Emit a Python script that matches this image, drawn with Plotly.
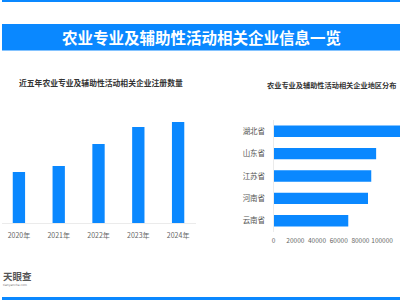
import plotly.graph_objects as go

years = ["2020年", "2021年", "2022年", "2023年", "2024年"]
year_counts = [10200, 11400, 15800, 19200, 20200]

provinces = ["湖北省", "山东省", "江苏省", "河南省", "云南省"]
province_counts = [128000, 94500, 90000, 87000, 68800]

main_title = "农业专业及辅助性活动相关企业信息一览"
left_title = "近五年农业专业及辅助性活动相关企业注册数量"
right_title = "农业专业及辅助性活动相关企业地区分布"

BLUE = "#0A88FF"
W, H = 400, 300

fig = go.Figure()
fig.add_trace(go.Bar(x=years, y=year_counts, marker=dict(color=BLUE, line=dict(width=0)),
                     width=0.31, xaxis="x", yaxis="y", showlegend=False))
fig.add_trace(go.Bar(x=province_counts, y=provinces, orientation="h",
                     marker=dict(color=BLUE, line=dict(width=0)),
                     width=0.51, xaxis="x2", yaxis="y2", showlegend=False))

tickfont = dict(family="Noto Sans CJK SC", size=7, color="#666666")

fig.update_layout(
    width=W, height=H, margin=dict(l=0, r=0, t=0, b=0),
    paper_bgcolor="white", plot_bgcolor="white",
    xaxis=dict(domain=[0, 195 / W], type="category", range=[-0.425, 4.45],
               showline=True, linecolor="#EBEBEB", linewidth=1, showgrid=False,
               ticks="", tickfont=tickfont, ticklabelstandoff=6, tickangle=0, fixedrange=True),
    yaxis=dict(domain=[1 - 223 / H, 1 - 110 / H], range=[0, 22600], visible=False,
               showgrid=False, fixedrange=True),
    xaxis2=dict(domain=[273 / W, 1.0], range=[0, 116500], showgrid=False, zeroline=False,
                showline=False, ticks="", tickvals=[0, 20000, 40000, 60000, 80000, 100000],
                ticktext=["0", "20000", "40000", "60000", "80000", "100000"],
                tickangle=0,
                tickfont=dict(family="Noto Sans CJK SC", size=6.5, color="#666666"),
                ticklabelstandoff=3, anchor="y2", fixedrange=True),
    yaxis2=dict(domain=[1 - 232 / H, 1 - 120 / H], type="category", range=[4.5, -0.5],
                showline=True, linecolor="#EBEBEB", linewidth=1, showgrid=False,
                ticks="", tickfont=dict(family="Noto Sans CJK SC", size=7.5, color="#555555"),
                ticklabelstandoff=6, anchor="x2", fixedrange=True),
    shapes=[
        dict(type="rect", xref="paper", yref="paper", x0=0, x1=1, y0=1 - 2 / H, y1=1,
             fillcolor=BLUE, line=dict(width=0)),
        dict(type="rect", xref="paper", yref="paper", x0=0, x1=1, y0=1 - 50.5 / H, y1=1 - 24 / H,
             fillcolor=BLUE, line=dict(width=0)),
        dict(type="rect", xref="paper", yref="paper", x0=0, x1=1, y0=0, y1=3 / H,
             fillcolor=BLUE, line=dict(width=0)),
    ],
    annotations=[
        dict(text="<b>" + main_title + "</b>", xref="paper", yref="paper", x=0.5, y=1 - 37 / H,
             xanchor="center", yanchor="middle", showarrow=False,
             font=dict(family="Noto Sans CJK SC", size=15.5, color="white")),
        dict(text="<b>" + left_title + "</b>", xref="paper", yref="paper", x=15 / W, y=1 - 83 / H,
             xanchor="left", yanchor="middle", showarrow=False,
             font=dict(family="Noto Sans CJK SC", size=7.8, color="#333333")),
        dict(text="<b>" + right_title + "</b>", xref="paper", yref="paper", x=264 / W, y=1 - 85 / H,
             xanchor="left", yanchor="middle", showarrow=False,
             font=dict(family="Noto Sans CJK SC", size=7.2, color="#333333")),
        dict(text="<b>天眼查</b>", xref="paper", yref="paper", x=0, y=1 - 276 / H,
             xanchor="left", yanchor="middle", showarrow=False, borderpad=0,
             font=dict(family="Noto Sans CJK SC", size=9.5, color="#555555")),
        dict(text="tianyancha.com", xref="paper", yref="paper", x=0, y=1 - 284.5 / H,
             xanchor="left", yanchor="middle", showarrow=False, borderpad=0,
             font=dict(family="DejaVu Sans", size=3, color="#777777")),
    ],
    bargap=0.3,
)

fig.write_html("out.html")
